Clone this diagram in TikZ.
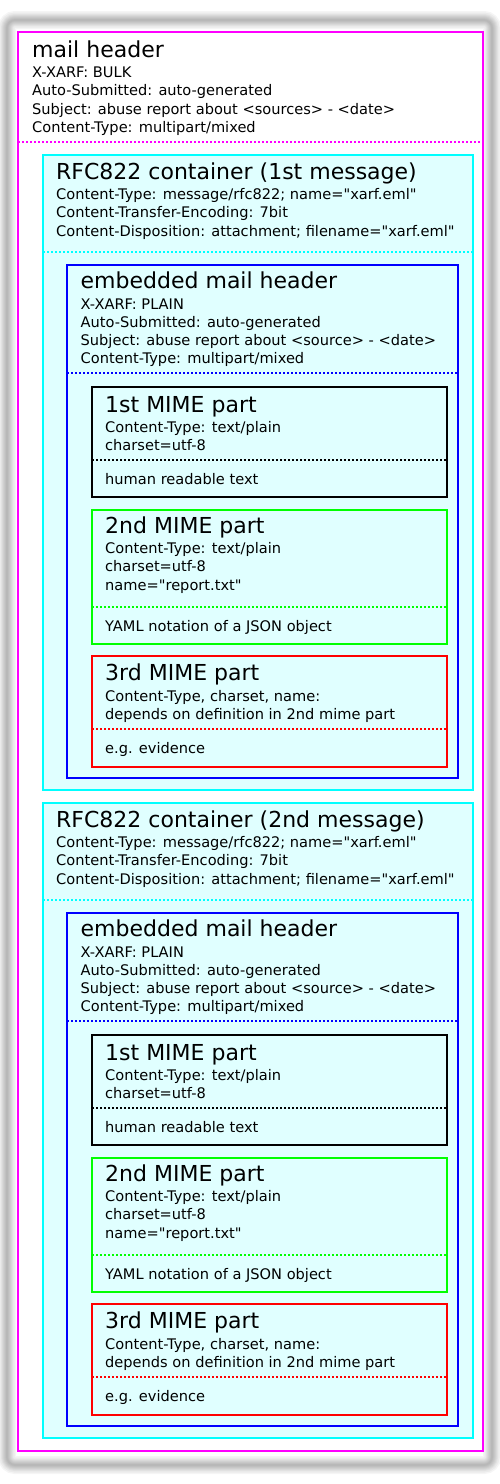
\documentclass[tikz,border=0pt]{standalone}
\usepackage{fontspec}
\setmainfont{DejaVu Sans}[Ligatures=TeXOff]
\definecolor{boxfill}{RGB}{224,255,255}
\definecolor{cmag}{RGB}{255,0,255}
\definecolor{ccyan}{RGB}{0,255,255}
\definecolor{cblue}{RGB}{0,0,255}
\definecolor{cgreen}{RGB}{0,255,0}
\definecolor{cred}{RGB}{255,0,0}
\begin{document}
\begin{tikzpicture}[x=1pt,y=-1pt,
  ttl/.style={anchor=base west, inner sep=0pt, font=\fontsize{22}{26}\selectfont},
  txt/.style={anchor=base west, inner sep=0pt, font=\fontsize{14.6}{18}\selectfont},
  frame/.style={line width=2.2pt},
  sep/.style={line width=2.2pt, dash pattern=on 2pt off 2pt},
  shade/.style={black, opacity=0.04, rounded corners=8pt},
]
\useasboundingbox (0,0) rectangle (500,1484);

% soft shadow around the page card
\foreach \w in {18,15,12,10,8,6,4,2}
  \draw[shade, line width=\w pt] (7,20) rectangle (492,1465);

% outer mail
\draw[frame, cmag, fill=white] (18,32) rectangle (483,1451);
\node[ttl] (mh) at (32,57) {mail header};
\node[txt] (mh1) at (32,77) {X-XARF: BULK};
\node[txt] (mh2) at (32,95.5) {Auto-Submitted: auto-generated};
\node[txt] (mh3) at (32,114) {Subject: abuse report about <sources> - <date>};
\node[txt] (mh4) at (32,132.5) {Content-Type: multipart/mixed};
\draw[sep, cmag] (18,142) -- (483,142);

% the two attached RFC822 messages
\foreach \k/\sh/\ord in {1/0/1st, 2/648/2nd} {
\begin{scope}[yshift=-\sh pt]
  \draw[frame, ccyan, fill=boxfill] (43,155) rectangle (473,790);
  \node[ttl] (c\k) at (56,179) {RFC822 container (\ord\ message)};
  \node[txt] (c\k a) at (56,199) {Content-Type: message/rfc822; name="xarf.eml"};
  \node[txt] (c\k b) at (56,217.5) {Content-Transfer-Encoding: 7bit};
  \node[txt] (c\k c) at (56,236) {Content-Disposition: attachment; filename="xarf.eml"};
  \draw[sep, ccyan] (43,252) -- (473,252);

  \draw[frame, cblue] (67,265) rectangle (458,778);
  \node[ttl] (e\k) at (80.5,288) {embedded mail header};
  \node[txt] (e\k a) at (80.5,309) {X-XARF: PLAIN};
  \node[txt] (e\k b) at (80.5,327) {Auto-Submitted: auto-generated};
  \node[txt] (e\k c) at (80.5,345) {Subject: abuse report about <source> - <date>};
  \node[txt] (e\k d) at (80.5,363) {Content-Type: multipart/mixed};
  \draw[sep, cblue] (67,373) -- (458,373);

  \draw[frame, black] (92,387) rectangle (447,497);
  \node[ttl] (p\k x) at (105,412) {1st MIME part};
  \node[txt] (p\k xa) at (105,432) {Content-Type: text/plain};
  \node[txt] (p\k xb) at (105,450) {charset=utf-8};
  \draw[sep, black] (92,460) -- (447,460);
  \node[txt] (p\k xc) at (105,484) {human readable text};

  \draw[frame, cgreen] (92,510) rectangle (447,644);
  \node[ttl] (p\k y) at (105,533) {2nd MIME part};
  \node[txt] (p\k ya) at (105,553) {Content-Type: text/plain};
  \node[txt] (p\k yb) at (105,571.5) {charset=utf-8};
  \node[txt] (p\k yc) at (105,590) {name="report.txt"};
  \draw[sep, cgreen] (92,607) -- (447,607);
  \node[txt] (p\k yd) at (105,631) {YAML notation of a JSON object};

  \draw[frame, cred] (92,656) rectangle (447,767);
  \node[ttl] (p\k z) at (105,680) {3rd MIME part};
  \node[txt] (p\k za) at (105,701) {Content-Type, charset, name:};
  \node[txt] (p\k zb) at (105,719) {depends on definition in 2nd mime part};
  \draw[sep, cred] (92,729) -- (447,729);
  \node[txt] (p\k zc) at (105,753) {e.g. evidence};
\end{scope}
}
\end{tikzpicture}
\end{document}
